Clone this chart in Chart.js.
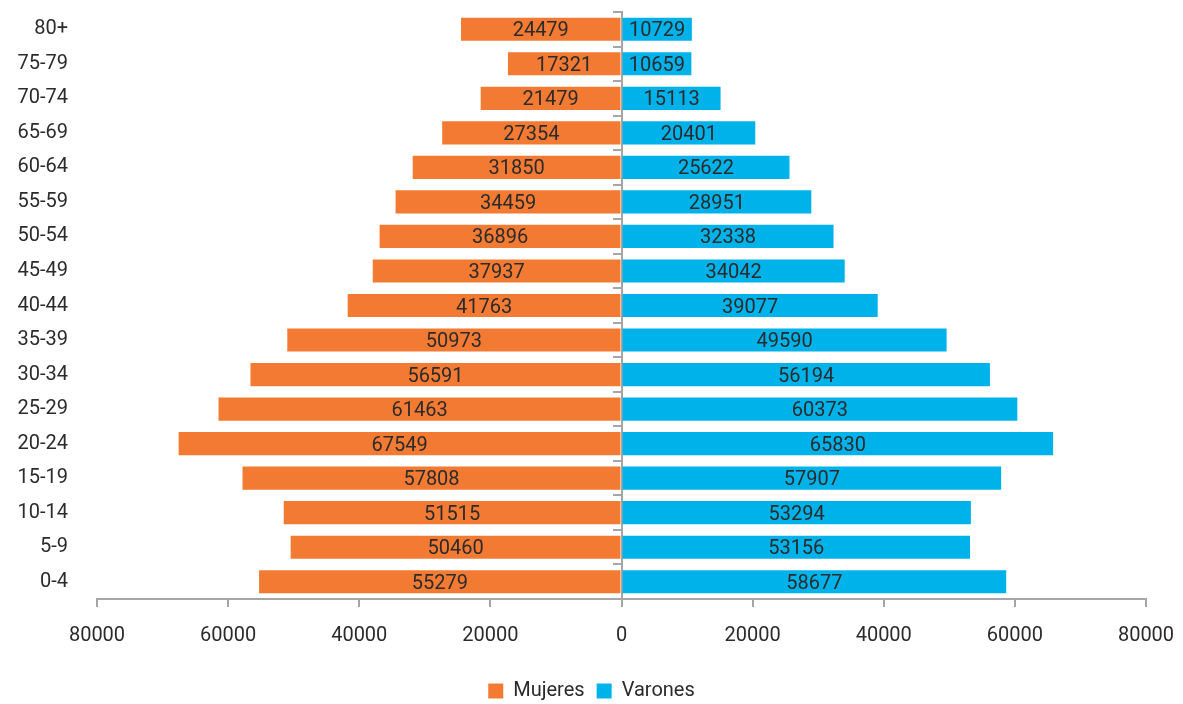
<!DOCTYPE html>
<html>
<head>
<meta charset="utf-8">
<script src="https://cdn.jsdelivr.net/npm/chart.js@4"></script>
<style>
  body { margin: 0; background: #fff; }
  #wrap { width: 1183px; height: 704px; }
</style>
</head>
<body>
<div id="wrap"><canvas id="grafica" width="1183" height="704"></canvas></div>
<script>
const grupos = ["80+", "75-79", "70-74", "65-69", "60-64", "55-59", "50-54", "45-49", "40-44",
  "35-39", "30-34", "25-29", "20-24", "15-19", "10-14", "5-9", "0-4"];
const mujeres = [24479, 17321, 21479, 27354, 31850, 34459, 36896, 37937, 41763,
  50973, 56591, 61463, 67549, 57808, 51515, 50460, 55279];
const varones = [10729, 10659, 15113, 20401, 25622, 28951, 32338, 34042, 39077,
  49590, 56194, 60373, 65830, 57907, 53294, 53156, 58677];
const ticksX = [-80000, -60000, -40000, -20000, 0, 20000, 40000, 60000, 80000];

const fuente = "Roboto, 'DejaVu Sans', sans-serif";
const gris = "#a6a6a6";

// etiquetas dentro de las barras
const etiquetas = {
  id: "etiquetas",
  afterDatasetsDraw(chart) {
    const ctx = chart.ctx;
    ctx.save();
    ctx.font = "20px " + fuente;
    ctx.fillStyle = "#2b2b2b";
    ctx.textAlign = "center";
    ctx.textBaseline = "middle";
    chart.data.datasets.forEach((ds, i) => {
      chart.getDatasetMeta(i).data.forEach((bar, j) => {
        const cx = (bar.x + bar.base) / 2;
        ctx.fillText(Math.abs(ds.data[j]), cx, bar.y + 2);
      });
    });
    ctx.restore();
  }
};

new Chart(document.getElementById("grafica").getContext("2d"), {
  type: "bar",
  data: {
    labels: grupos,
    datasets: [
      { label: "Mujeres", data: mujeres.map(v => -v), backgroundColor: "#f37a33",
        barPercentage: 0.67, categoryPercentage: 1 },
      { label: "Varones", data: varones, backgroundColor: "#00b2ea",
        barPercentage: 0.67, categoryPercentage: 1 }
    ]
  },
  options: {
    indexAxis: "y",
    responsive: false,
    animation: false,
    layout: { padding: { left: 0, top: 0, right: 0, bottom: -7 } },
    scales: {
      x: {
        stacked: true,
        min: -80000,
        max: 80000,
        afterBuildTicks: s => { s.ticks = ticksX.map(v => ({ value: v })); },
        afterFit: s => { s.paddingLeft = 0; s.paddingRight = 37; s.height += 4; },
        ticks: {
          callback: v => Math.abs(v),
          font: { family: fuente, size: 20 },
          color: "#2b2b2b",
          padding: 17,
          maxRotation: 0
        },
        grid: { drawOnChartArea: false, tickLength: 8, color: gris, lineWidth: 2 },
        border: { color: gris, width: 2 }
      },
      y: {
        stacked: true,
        afterFit: s => { s.width = 97; },
        ticks: { font: { family: fuente, size: 20 }, color: "#2b2b2b", padding: 0 },
        grid: { display: false, drawTicks: true, tickLength: 29 },
        border: { display: false }
      },
      yc: {
        type: "category",
        position: { x: 0 },
        offset: true,
        ticks: { display: false, padding: 0 },
        grid: { drawOnChartArea: false, offset: true, tickLength: 8, color: gris, lineWidth: 2 },
        border: { color: gris, width: 2 }
      }
    },
    plugins: {
      legend: {
        position: "bottom",
        labels: {
          boxWidth: 15,
          boxHeight: 15,
          padding: 12,
          color: "#2b2b2b",
          font: { family: fuente, size: 20 }
        }
      },
      tooltip: { enabled: false }
    }
  },
  plugins: [etiquetas]
});
</script>
</body>
</html>
